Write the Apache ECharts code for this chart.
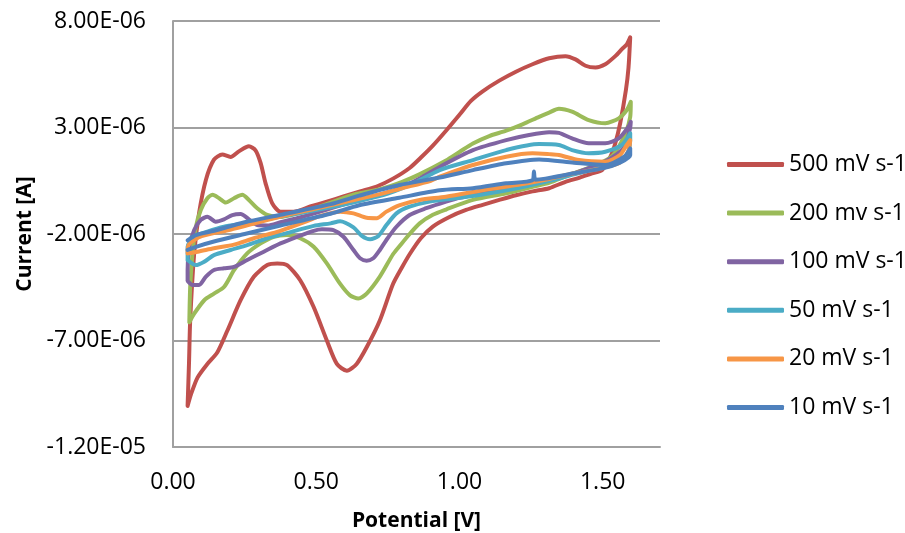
<!DOCTYPE html>
<html>
<head>
<meta charset="utf-8">
<script src="https://cdn.jsdelivr.net/npm/echarts@6/dist/echarts.min.js"></script>
<style>
html,body{margin:0;padding:0;background:#fff;}
#chart{width:905px;height:533px;}
</style>
</head>
<body>
<div id="chart"></div>
<script>
// Legend / series names
const seriesNames = ['500 mV s-1', '200 mv s-1', '100 mV s-1', '50 mV s-1', '20 mV s-1', '10 mV s-1'];
const seriesColors = ['#C0504D', '#9BBB59', '#8064A2', '#4BACC6', '#F79646', '#4F81BD'];

// Axis ticks
const xTicks = [0.00, 0.50, 1.00, 1.50];
const yTicks = [-1.2e-5, -7e-6, -2e-6, 3e-6, 8e-6];

// Currents in microamps, potentials in V (forward scan then reverse scan)
const potential500 = [0.051,0.056,0.060,0.074,0.091,0.115,0.143,0.172,0.201,0.230,0.265,0.288,0.306,0.323,0.346,0.375,0.421,0.479,0.537,0.595,0.653,0.711,0.768,0.826,0.870,0.907,0.953,1.000,1.040,1.081,1.139,1.197,1.255,1.313,1.370,1.405,1.440,1.475,1.509,1.544,1.567,1.584,1.596,
  1.590,1.581,1.561,1.544,1.527,1.498,1.463,1.420,1.370,1.313,1.255,1.197,1.139,1.081,1.023,0.965,0.907,0.865,0.826,0.800,0.768,0.722,0.676,0.641,0.607,0.572,0.537,0.491,0.444,0.398,0.364,0.329,0.282,0.236,0.190,0.155,0.120,0.086,0.063,0.051];
const current500 = [-10.07,-8.0,-6.06,-2.91,-1.02,0.55,1.49,1.73,1.62,1.88,2.12,1.93,1.33,0.39,-0.55,-0.95,-0.95,-0.71,-0.48,-0.24,0.0,0.23,0.60,1.10,1.65,2.15,2.85,3.60,4.25,4.70,5.20,5.62,5.97,6.25,6.35,6.20,5.90,5.82,5.97,6.35,6.68,6.90,7.23,
  5.80,4.76,3.20,2.26,1.63,1.00,0.85,0.65,0.45,0.15,0.00,-0.18,-0.40,-0.63,-0.87,-1.20,-1.65,-2.20,-2.95,-3.55,-4.35,-6.06,-7.32,-8.10,-8.42,-8.10,-7.00,-5.43,-4.17,-3.46,-3.38,-3.46,-4.01,-5.11,-6.53,-7.55,-8.10,-8.73,-9.52,-10.07];

const potential200 = [0.057,0.060,0.068,0.080,0.097,0.120,0.138,0.161,0.184,0.213,0.242,0.265,0.294,0.329,0.375,0.430,0.514,0.630,0.722,0.800,0.860,0.953,1.000,1.047,1.104,1.163,1.220,1.278,1.313,1.347,1.393,1.451,1.509,1.556,1.584,1.598,
  1.596,1.580,1.556,1.532,1.486,1.370,1.313,1.255,1.163,1.047,0.953,0.907,0.861,0.826,0.792,0.768,0.722,0.676,0.647,0.618,0.583,0.537,0.491,0.444,0.398,0.352,0.306,0.259,0.213,0.178,0.143,0.109,0.074,0.057];
const current200 = [-6.14,-4.49,-2.91,-1.66,-0.87,-0.32,-0.16,-0.32,-0.52,-0.32,-0.16,-0.40,-0.79,-1.10,-1.20,-1.05,-0.70,-0.15,0.10,0.45,0.80,1.45,1.85,2.25,2.60,2.85,3.15,3.50,3.70,3.88,3.74,3.35,3.20,3.43,3.82,4.21,
  3.50,2.73,2.10,1.65,1.30,0.70,0.40,0.22,-0.09,-0.40,-0.85,-1.10,-1.50,-2.00,-2.55,-2.95,-4.00,-4.80,-5.03,-4.88,-4.33,-3.38,-2.60,-2.20,-2.05,-2.13,-2.44,-2.91,-3.70,-4.49,-4.80,-5.11,-5.74,-6.14];

const potential100 = [0.051,0.051,0.057,0.074,0.097,0.120,0.149,0.178,0.207,0.236,0.265,0.294,0.330,0.375,0.450,0.514,0.600,0.700,0.792,0.861,0.940,1.047,1.163,1.243,1.313,1.347,1.393,1.451,1.509,1.556,1.590,1.598,
  1.596,1.580,1.550,1.500,1.400,1.300,1.200,1.100,1.000,0.953,0.884,0.826,0.780,0.745,0.722,0.699,0.676,0.653,0.630,0.595,0.560,0.520,0.491,0.433,0.375,0.317,0.259,0.213,0.178,0.143,0.115,0.091,0.068,0.051];
const current100 = [-4.20,-3.69,-2.60,-1.81,-1.34,-1.19,-1.42,-1.31,-1.11,-1.06,-1.31,-1.58,-1.60,-1.45,-1.20,-0.95,-0.60,-0.25,0.15,0.60,1.22,1.94,2.41,2.65,2.78,2.75,2.49,2.26,2.26,2.49,3.04,3.27,
  3.00,2.20,1.75,1.35,0.85,0.50,0.20,-0.05,-0.30,-0.48,-0.79,-1.11,-1.66,-2.28,-2.75,-3.14,-3.25,-3.14,-2.75,-2.13,-1.82,-1.78,-1.85,-2.13,-2.44,-2.83,-3.22,-3.54,-3.61,-3.69,-4.00,-4.39,-4.39,-4.20];

const potential50 = [0.051,0.051,0.074,0.120,0.178,0.250,0.350,0.450,0.550,0.650,0.750,0.850,0.931,1.047,1.163,1.278,1.347,1.393,1.451,1.509,1.567,1.596,
  1.596,1.580,1.500,1.400,1.300,1.200,1.100,1.000,0.896,0.826,0.780,0.745,0.717,0.688,0.659,0.630,0.583,0.550,0.491,0.400,0.329,0.259,0.201,0.143,0.109,0.080,0.051];
const current50 = [-3.22,-2.60,-2.13,-1.89,-1.66,-1.50,-1.25,-1.00,-0.75,-0.45,-0.10,0.45,1.00,1.47,1.94,2.22,2.18,1.94,1.79,1.86,2.18,2.73,
  2.40,1.60,1.15,0.80,0.45,0.15,-0.10,-0.30,-0.48,-0.72,-1.03,-1.58,-2.09,-2.25,-2.09,-1.69,-1.40,-1.50,-1.62,-1.95,-2.20,-2.52,-2.75,-2.99,-3.30,-3.46,-3.22];

const potential20 = [0.051,0.055,0.100,0.200,0.300,0.400,0.500,0.600,0.700,0.800,0.900,0.931,1.047,1.163,1.255,1.313,1.347,1.417,1.509,1.560,1.584,1.596,
  1.590,1.560,1.500,1.400,1.300,1.200,1.100,0.953,0.861,0.792,0.745,0.711,0.676,0.630,0.583,0.514,0.468,0.375,0.282,0.213,0.143,0.086,0.051];
const current20 = [-2.91,-2.50,-2.10,-1.80,-1.45,-1.10,-0.80,-0.50,-0.20,0.15,0.50,0.69,1.24,1.63,1.79,1.75,1.71,1.47,1.39,1.70,2.18,2.41,
  1.90,1.35,1.10,0.85,0.55,0.30,0.10,-0.25,-0.40,-0.64,-0.95,-1.26,-1.24,-1.03,-0.95,-1.15,-1.40,-1.85,-2.20,-2.50,-2.67,-2.83,-2.91];

const potential10 = [0.051,0.080,0.143,0.250,0.375,0.550,0.650,0.790,0.931,1.047,1.163,1.278,1.400,1.509,1.575,1.596,
  1.596,1.560,1.500,1.400,1.300,1.265,1.260,1.255,1.163,1.047,0.931,0.790,0.650,0.550,0.375,0.250,0.143,0.080,0.051];
const current10 = [-2.30,-2.05,-1.85,-1.45,-1.10,-0.60,-0.20,0.30,0.65,1.00,1.32,1.50,1.35,1.24,1.63,2.02,
  1.70,1.35,1.08,0.85,0.60,0.55,0.93,0.52,0.38,0.15,0.05,-0.30,-0.65,-1.05,-1.60,-2.00,-2.35,-2.60,-2.75];

const potentials = [potential500, potential200, potential100, potential50, potential20, potential10];
const currents = [current500, current200, current100, current50, current20, current10];

function sci(v) {
  if (Math.abs(v) < 1e-15) return '0.00E+00';
  let e = Math.floor(Math.log10(Math.abs(v)) + 1e-9);
  let m = v / Math.pow(10, e);
  m = Math.round(m * 100) / 100;
  if (Math.abs(m) >= 10) { m /= 10; e += 1; }
  const es = (e < 0 ? '-' : '+') + String(Math.abs(e)).padStart(2, '0');
  return m.toFixed(2) + 'E' + es;
}

const font = '"Open Sans", "Noto Sans", sans-serif';
const chart = echarts.init(document.getElementById('chart'), null, {renderer: 'canvas'});

const series = seriesNames.map((name, i) => ({
  name: name,
  type: 'line',
  showSymbol: false,
  symbol: 'none',
  smooth: 0.25,
  color: seriesColors[i],
  lineStyle: {width: 4, color: seriesColors[i], cap: 'round', join: 'round'},
  data: potentials[i].map((x, k) => [x, currents[i][k] * 1e-6]),
  z: 2 + i
}));

chart.setOption({
  animation: false,
  backgroundColor: '#ffffff',
  grid: {left: 173, right: 245, top: 21, bottom: 86, containLabel: false, outerBoundsMode: 'none'},
  legend: {
    orient: 'vertical',
    left: 722,
    top: 148,
    itemWidth: 57,
    itemHeight: 5,
    itemGap: 25.6,
    icon: 'roundRect',
    data: seriesNames,
    textStyle: {fontFamily: font, fontSize: 23, color: '#000', lineHeight: 23}
  },
  xAxis: {
    type: 'value',
    min: 0,
    max: 1.7,
    interval: 0.5,
    name: 'Potential [V]',
    nameLocation: 'middle',
    nameGap: 64,
    nameTextStyle: {fontFamily: font, fontSize: 21, fontWeight: 'bold', color: '#000'},
    axisLine: {show: true, onZero: false, lineStyle: {color: '#a0a0a0', width: 2}},
    axisTick: {show: false},
    splitLine: {show: false},
    axisLabel: {
      fontFamily: font, fontSize: 23, color: '#000', margin: 24,
      showMaxLabel: false,
      formatter: function (v) {
        for (const t of xTicks) { if (Math.abs(v - t) < 1e-9) return t.toFixed(2); }
        return '';
      }
    }
  },
  yAxis: {
    type: 'value',
    min: yTicks[0],
    max: yTicks[yTicks.length - 1],
    interval: 5e-6,
    name: 'Current [A]',
    nameLocation: 'middle',
    nameGap: 132,
    nameRotate: 90,
    nameTextStyle: {fontFamily: font, fontSize: 21, fontWeight: 'bold', color: '#000'},
    axisLine: {show: true, onZero: false, lineStyle: {color: '#a0a0a0', width: 2}},
    axisTick: {show: false},
    splitLine: {show: true, lineStyle: {color: '#a0a0a0', width: 2}},
    axisLabel: {fontFamily: font, fontSize: 23, color: '#000', margin: 27, formatter: sci}
  },
  series: series
});
</script>
</body>
</html>
